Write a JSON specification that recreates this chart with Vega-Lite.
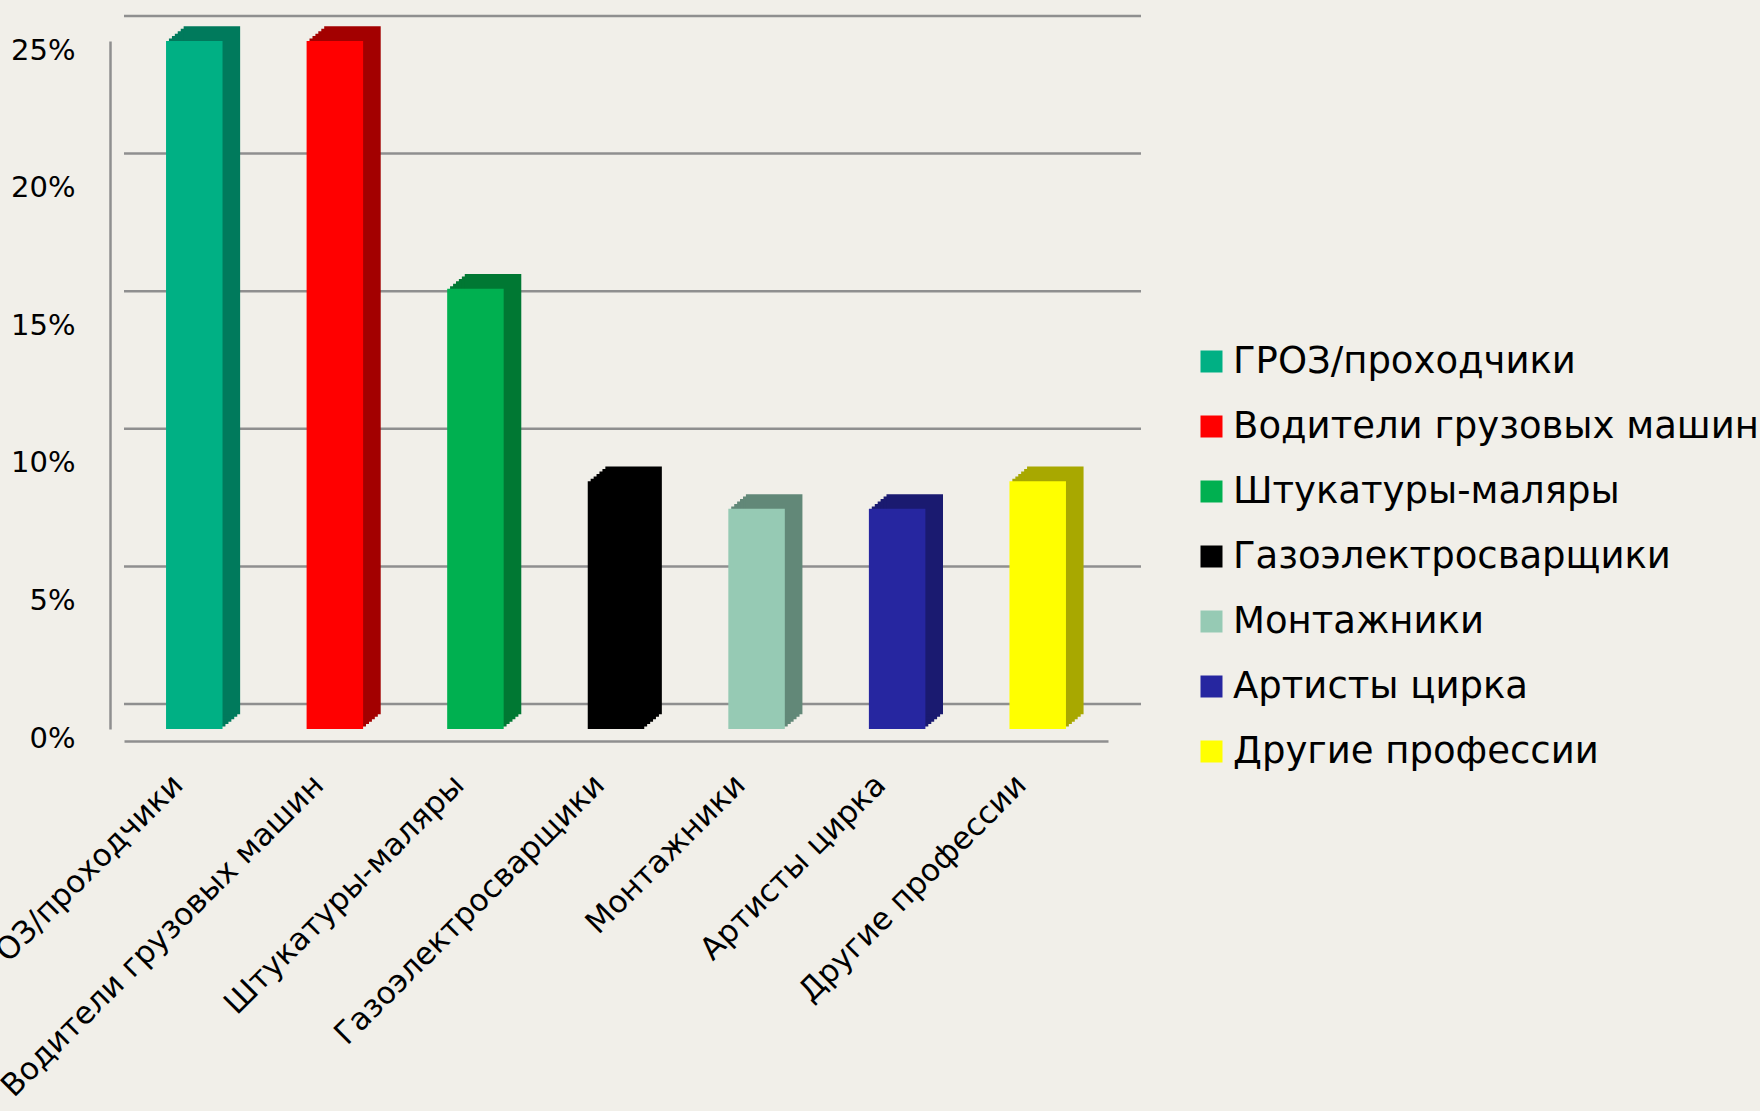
{
  "$schema": "https://vega.github.io/schema/vega-lite/v6.json",
  "width": 984,
  "height": 688,
  "autosize": {"type": "none"},
  "padding": {"left": 124, "top": 41, "right": 652, "bottom": 382},
  "background": "#f1efe9",
  "config": {"view": {"stroke": null}, "font": "DejaVu Sans"},
  "datasets": {
    "jobs": [
      {"profession": "ГРОЗ/проходчики", "pct": 25},
      {"profession": "Водители грузовых машин", "pct": 25},
      {"profession": "Штукатуры-маляры", "pct": 16},
      {"profession": "Газоэлектросварщики", "pct": 9},
      {"profession": "Монтажники", "pct": 8},
      {"profession": "Артисты цирка", "pct": 8},
      {"profession": "Другие профессии", "pct": 9}
    ],
    "grid": [{"pct": 0}, {"pct": 5}, {"pct": 10}, {"pct": 15}, {"pct": 20}, {"pct": 25}]
  },
  "encoding": {
    "y": {
      "field": "pct",
      "type": "quantitative",
      "scale": {"domain": [0, 25], "nice": false},
      "axis": {
        "values": [0, 5, 10, 15, 20, 25],
        "labelExpr": "datum.value + '%'",
        "offset": 14,
        "domainColor": "#8f8f8f",
        "domainWidth": 2.5,
        "ticks": false,
        "tickSize": 0,
        "grid": false,
        "labelPadding": 35,
        "labelFontSize": 29,
        "labelColor": "#000000",
        "labelOffset": 9,
        "title": null
      }
    }
  },
  "layer": [
    {
      "data": {"name": "grid"},
      "mark": {"type": "rule", "color": "#8f8f8f", "strokeWidth": 2.5, "xOffset": 33, "x2Offset": 33, "yOffset": -25}
    },
    {
      "data": {"name": "jobs"},
      "encoding": {
        "x": {
          "field": "profession",
          "type": "nominal",
          "sort": null,
          "scale": {"paddingInner": 0.598, "paddingOuter": 0.299},
          "axis": {
            "title": null,
            "labelAngle": -45,
            "labelAlign": "right",
            "labelBaseline": "middle",
            "labelFontSize": 31,
            "labelPadding": 39,
            "labelOffset": -16,
            "ticks": false,
            "tickSize": 0,
            "offset": 12,
            "domainColor": "#8f8f8f",
            "domainWidth": 2.5,
            "labelLimit": 0,
            "labelOverlap": false,
            "labelFlush": false,
            "labelColor": "#000000"
          }
        }
      },
      "layer": [
        {
          "mark": {"type": "bar", "xOffset": 2.9, "yOffset": -2.45},
          "encoding": {"color": {"field": "profession", "type": "nominal", "sort": null, "legend": null,
            "scale": {"range": ["#007a5c", "#a30000", "#007833", "#000000", "#628878", "#1a1a70", "#a8a800"]}}}
        },
        {
          "mark": {"type": "bar", "xOffset": 5.9, "yOffset": -4.9},
          "encoding": {"color": {"field": "profession", "type": "nominal", "sort": null, "legend": null,
            "scale": {"range": ["#007a5c", "#a30000", "#007833", "#000000", "#628878", "#1a1a70", "#a8a800"]}}}
        },
        {
          "mark": {"type": "bar", "xOffset": 8.8, "yOffset": -7.35},
          "encoding": {"color": {"field": "profession", "type": "nominal", "sort": null, "legend": null,
            "scale": {"range": ["#007a5c", "#a30000", "#007833", "#000000", "#628878", "#1a1a70", "#a8a800"]}}}
        },
        {
          "mark": {"type": "bar", "xOffset": 11.7, "yOffset": -9.8},
          "encoding": {"color": {"field": "profession", "type": "nominal", "sort": null, "legend": null,
            "scale": {"range": ["#007a5c", "#a30000", "#007833", "#000000", "#628878", "#1a1a70", "#a8a800"]}}}
        },
        {
          "mark": {"type": "bar", "xOffset": 14.7, "yOffset": -12.25},
          "encoding": {"color": {"field": "profession", "type": "nominal", "sort": null, "legend": null,
            "scale": {"range": ["#007a5c", "#a30000", "#007833", "#000000", "#628878", "#1a1a70", "#a8a800"]}}}
        },
        {
          "mark": {"type": "bar", "xOffset": 17.6, "yOffset": -14.7},
          "encoding": {"color": {"field": "profession", "type": "nominal", "sort": null, "legend": null,
            "scale": {"range": ["#007a5c", "#a30000", "#007833", "#000000", "#628878", "#1a1a70", "#a8a800"]}}}
        },
        {
          "mark": {"type": "bar"},
          "encoding": {"color": {"field": "profession", "type": "nominal", "sort": null,
            "scale": {"range": ["#00b084", "#ff0000", "#00b050", "#000000", "#96cab4", "#2626a0", "#ffff00"]},
            "legend": {
              "orient": "none",
              "legendX": 1069,
              "legendY": 302,
              "title": null,
              "symbolType": "square",
              "symbolSize": 484,
              "symbolStrokeWidth": 0,
              "labelFontSize": 37,
              "labelOffset": 3,
              "rowPadding": 27,
              "labelLimit": 0,
              "padding": 0,
              "labelColor": "#000000"
            }}}
        }
      ],
      "resolve": {"scale": {"color": "independent"}, "legend": {"color": "independent"}}
    }
  ]
}
